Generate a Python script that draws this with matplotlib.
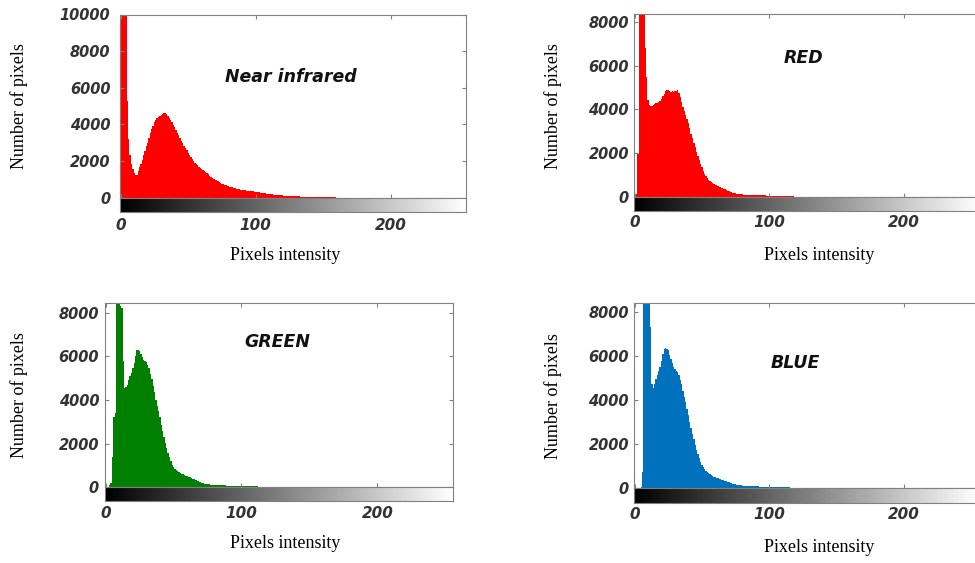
import matplotlib
matplotlib.use("Agg")
import matplotlib.pyplot as plt
import numpy as np

plt.rcParams['font.family'] = ['DejaVu Sans']

W, H = 975, 563

# 直方图数据 (每个灰度值的像素数, 从 0 开始; 未列出的灰度值计数为 0)
nir_counts = [
    3900, 16000, 14000, 12000, 10500, 5300, 3200, 2300, 1850, 1550,
    1350, 1220, 1250, 1450, 1650, 1850, 2050, 2300, 2550, 2800,
    3000, 3250, 3500, 3720, 3920, 4100, 4230, 4320, 4380, 4430,
    4500, 4570, 4630, 4630, 4560, 4450, 4350, 4250, 4120, 3980,
    3830, 3680, 3530, 3400, 3250, 3100, 2960, 2820, 2700, 2580,
    2450, 2330, 2200, 2080, 1970, 1880, 1810, 1750, 1680, 1620,
    1570, 1500, 1440, 1380, 1320, 1260, 1200, 1140, 1090, 1030,
    980, 930, 880, 830, 790, 760, 730, 710, 680, 650,
    620, 590, 570, 550, 530, 510, 490, 470, 450, 430,
    410, 400, 390, 380, 370, 360, 350, 340, 330, 320,
    310, 300, 290, 285, 270, 255, 240, 225, 210, 200,
    190, 180, 170, 160, 150, 140, 135, 130, 125, 115,
    110, 105, 100, 95, 90, 88, 82, 78, 72, 68,
    64, 60, 56, 52, 48, 44, 40, 36, 32, 28,
    25, 22, 20, 18, 16, 14, 12, 11, 10, 9,
    8, 7, 6, 5, 5, 4, 4, 3, 3, 2,
]
red_counts = [
    0, 170, 1950, 1950, 12000, 16000, 14000, 9500, 6800, 5500,
    4450, 4200, 4150, 4150, 4200, 4250, 4280, 4300, 4330, 4400,
    4500, 4620, 4720, 4820, 4880, 4870, 4820, 4800, 4820, 4800,
    4820, 4850, 4880, 4750, 4550, 4330, 4130, 3950, 3760, 3570,
    3370, 3150, 2900, 2680, 2470, 2270, 2070, 1880, 1700, 1520,
    1360, 1210, 1080, 960, 860, 790, 730, 690, 650, 610,
    570, 540, 510, 480, 450, 420, 390, 360, 330, 300,
    270, 245, 225, 205, 190, 178, 165, 155, 145, 137,
    130, 124, 118, 113, 109, 105, 102, 100, 98, 96,
    94, 92, 90, 88, 86, 85, 84, 82, 80, 79,
    78, 76, 75, 74, 73, 72, 70, 68, 66, 64,
    62, 60, 58, 56, 54, 52, 50, 45, 40, 35,
    30, 25, 22, 20, 18, 16, 14, 12, 10, 9,
    8, 7, 6, 5, 5, 4, 4, 3, 3, 2,
]
green_counts = [
    0, 0, 0, 100, 200, 1400, 3200, 3400, 12000, 15000,
    10000, 8300, 8200, 5800, 4550, 4600, 4700, 4900, 5100, 5230,
    5450, 5700, 6000, 6280, 6280, 6250, 6100, 5950, 5850, 5780,
    5720, 5620, 5450, 5200, 4950, 4650, 4350, 4000, 3730, 3470,
    3200, 2870, 2560, 2300, 2040, 1800, 1580, 1370, 1190, 1040,
    930, 850, 790, 740, 690, 650, 620, 590, 560, 530,
    505, 480, 455, 430, 400, 375, 350, 320, 290, 260,
    235, 210, 190, 170, 155, 140, 132, 125, 120, 115,
    110, 106, 102, 98, 95, 92, 89, 86, 84, 82,
    80, 78, 76, 74, 72, 70, 68, 66, 64, 62,
    60, 58, 56, 55, 54, 52, 50, 48, 46, 44,
    42, 40, 38, 36, 33, 30, 28, 25, 22, 20,
    18, 16, 14, 12, 10, 9, 8, 7, 6, 5,
    5, 4, 4, 3, 3, 2, 2, 1, 1, 1,
]
blue_counts = [
    0, 0, 0, 0, 0, 50, 750, 12000, 16000, 14000,
    11000, 9000, 7300, 4700, 4520, 4700, 4950, 5150, 5300, 5500,
    5750, 6100, 6300, 6350, 6320, 6250, 6050, 5850, 5650, 5500,
    5400, 5330, 5280, 5150, 4900, 4700, 4400, 4150, 3900, 3600,
    3300, 3020, 2750, 2480, 2250, 1980, 1750, 1550, 1360, 1200,
    1070, 970, 880, 790, 720, 670, 630, 600, 570, 530,
    500, 475, 455, 430, 410, 390, 365, 340, 315, 290,
    270, 250, 230, 210, 190, 175, 160, 150, 140, 132,
    125, 120, 115, 110, 106, 102, 98, 95, 92, 89,
    86, 84, 82, 80, 78, 76, 74, 72, 70, 68,
    66, 64, 62, 60, 58, 56, 55, 54, 52, 50,
    48, 46, 44, 42, 40, 38, 36, 33, 30, 28,
    25, 22, 20, 18, 16, 14, 12, 10, 9, 8,
    7, 6, 5, 5, 4, 4, 3, 3, 2, 2,
]

channel_names = ["Near infrared", "RED", "GREEN", "BLUE"]
channel_counts = [nir_counts, red_counts, green_counts, blue_counts]
bar_colors = ["#ff0000", "#ff0000", "#007f00", "#0072bd"]
y_tops = [10000, 8350, 8450, 8400]
y_ticks = [[0, 2000, 4000, 6000, 8000, 10000],
           [0, 2000, 4000, 6000, 8000],
           [0, 2000, 4000, 6000, 8000],
           [0, 2000, 4000, 6000, 8000]]
x_ticks = [0, 100, 200]
x_label = "Pixels intensity"
y_label = "Number of pixels"

# 版面 (像素): 直方图框 left, top, right, 零线; 灰度条底边; 标题/坐标轴标签位置; 刻度间距
layout = [
    dict(box=(120.0, 14.5, 465.7, 197.5), strip=211.7, title=(290.5, 77.3),
         xlab=(285.5, 255), ylab=(19, 106), ypad=7.0, xpad=4.5),
    dict(box=(633.9, 14.0, 978.8, 197.3), strip=210.7, title=(803, 58.3),
         xlab=(819.5, 255), ylab=(553, 106), ypad=3.6, xpad=2.8),
    dict(box=(105.0, 302.7, 452.7, 487.3), strip=501.0, title=(277.5, 341.7),
         xlab=(285.5, 543.5), ylab=(19, 395), ypad=4.3, xpad=3.8),
    dict(box=(633.9, 302.7, 978.8, 488.3), strip=502.7, title=(795, 362.7),
         xlab=(819.5, 547), ylab=(553, 396), ypad=3.6, xpad=3.3),
]

SPINE = "#808080"
TICK_TXT = "#333333"
SERIF = ["Liberation Serif", "DejaVu Serif"]


def px_axes(fig, left, top, right, bottom):
    return fig.add_axes([left / W, 1 - bottom / H, (right - left) / W, (bottom - top) / H])


def fig_text(fig, x, y, s, **kw):
    fig.text(x / W, 1 - y / H, s, ha="center", va="center", **kw)


fig = plt.figure(figsize=(W / 100, H / 100), dpi=100)

for name, counts, color, ytop, yt, lay in zip(channel_names, channel_counts, bar_colors,
                                               y_tops, y_ticks, layout):
    l, t, r, z = lay["box"]
    ax = px_axes(fig, l, t, r, z)
    edges = np.arange(len(counts) + 1) - 0.5
    ax.stairs(counts, edges, fill=True, color=color, linewidth=0)
    ax.set_xlim(-0.5, 255.5)
    ax.set_ylim(0, ytop)
    ax.set_xticks(x_ticks)
    ax.set_yticks(yt)
    ax.tick_params(direction="in", length=3, width=0.8, color=SPINE,
                   top=True, right=True, labelbottom=False,
                   labelsize=10.5, labelcolor=TICK_TXT, pad=lay["ypad"])
    for lab in ax.get_yticklabels():
        lab.set_fontweight("heavy")
        lab.set_fontstyle("italic")
    for sp in ax.spines.values():
        sp.set_color(SPINE)
        sp.set_linewidth(0.8)

    # 灰度条
    sax = px_axes(fig, l, z, r, lay["strip"])
    sax.imshow(np.arange(256)[None, :], cmap="gray", aspect="auto",
               extent=(-0.5, 255.5, 0, 1), interpolation="bilinear")
    sax.set_xlim(-0.5, 255.5)
    sax.set_yticks([])
    sax.set_xticks(x_ticks)
    sax.tick_params(length=0, labelsize=11, labelcolor=TICK_TXT, pad=lay["xpad"])
    for lab in sax.get_xticklabels():
        lab.set_fontweight("heavy")
        lab.set_fontstyle("italic")
    for sp in sax.spines.values():
        sp.set_color(SPINE)
        sp.set_linewidth(0.8)

    fig_text(fig, *lay["title"], name, fontsize=12.5, fontweight="bold",
             fontstyle="italic", color="#111111")
    fig_text(fig, *lay["xlab"], x_label, fontsize=13, family=SERIF)
    fig_text(fig, *lay["ylab"], y_label, fontsize=13, family=SERIF, rotation=90)

fig.savefig("out.png", dpi=100)
plt.close(fig)
